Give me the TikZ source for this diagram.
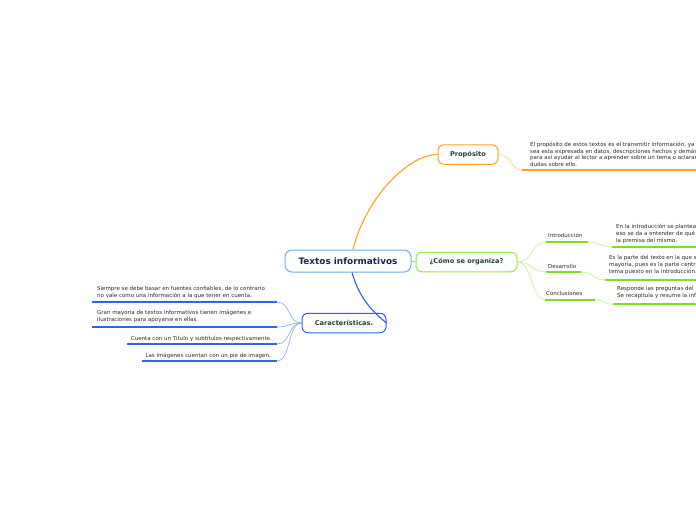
\documentclass[tikz,border=0pt]{standalone}
\usepackage{fontspec}
\setmainfont{DejaVu Sans}
\usepackage{xcolor}
\usepackage{tikz}
\usetikzlibrary{
  positioning,
  calc,
}

\definecolor{rootline}{HTML}{6CAEE4}
\definecolor{roottext}{HTML}{16284A}
\definecolor{topictext}{HTML}{1C4436}
\definecolor{leaftext}{HTML}{2A2A2A}
\definecolor{propline}{HTML}{FFA21F}
\definecolor{proplight}{HTML}{FFC978}
\definecolor{orgline}{HTML}{95EA45}
\definecolor{orgdark}{HTML}{80DC2A}
\definecolor{orglight}{HTML}{BDF28E}
\definecolor{carline}{HTML}{2560F0}
\definecolor{cardark}{HTML}{2F64F2}
\definecolor{carlight}{HTML}{85A8F5}

\begin{document}
\begin{tikzpicture}[
  x=1pt, y=-1pt,
  every node/.style={align=left, inner sep=0pt},
  rootbox/.style={draw=rootline, line width=1pt, rounded corners=7pt,
                  fill=white, minimum width=126pt, minimum height=22pt,
                  font=\fontsize{8.9}{10}\selectfont\bfseries, text=roottext,
                  align=center},
  topicbox/.style={draw=#1, line width=1pt, rounded corners=6pt,
                   fill=white, minimum height=19.5pt,
                   font=\fontsize{6.6}{7.5}\selectfont\bfseries, text=topictext,
                   align=center},
  leaf/.style={font=\fontsize{5.5}{6.7}\selectfont, text=leaftext},
  uline/.style={line width=1.6pt},
  twig/.style={line width=0.6pt},
]

\useasboundingbox (0,0) rectangle (696,520);
\clip (0,0) rectangle (696,520);

% main topics
\node[rootbox] (root) at (348,261) {Textos informativos};
\node[topicbox=propline, minimum width=60pt] (prop) at (468,154.5) {Propósito};
\node[topicbox=orgline, minimum width=101pt] (org) at (466.5,262) {¿Cómo se organiza?};
\node[topicbox=carline, minimum width=84pt] (car) at (344,323) {Características.};

\draw[propline, line width=1.1pt] ([xshift=5pt]root.north)
  .. controls +(12,-50) and +(-30,0) .. (prop.west);
\draw[orgline, line width=1pt] (root.east) -- (org.west);
\draw[carline, line width=1.1pt] ([xshift=4pt]root.south)
  .. controls +(8,28) and +(-12,-10) .. (car.east);

% Propósito
\coordinate (pu1) at (522,170);
\coordinate (pu2) at (700,170);
\draw[proplight, twig] (prop.east) .. controls +(14,0) and +(-12,0) .. (pu1);
\draw[propline, uline] (pu1) -- (pu2);
\node[leaf, anchor=south west] (ptext) at (530,166.7)
  {El propósito de estos textos es el transmitir información, ya\\
   sea esta expresada en datos, descripciones hechos y demás\\
   para así ayudar al lector a aprender sobre un tema o aclarar\\
   dudas sobre ello.};

% ¿Cómo se organiza?
\coordinate (i1) at (546,242);  \coordinate (i2) at (588,242);
\coordinate (d1) at (546,272);  \coordinate (d2) at (581,272);
\coordinate (c1) at (545,300);  \coordinate (c2) at (595,300);
\coordinate (it1) at (612,247); \coordinate (it2) at (700,247);
\coordinate (dt1) at (605,280); \coordinate (dt2) at (700,280);
\coordinate (ct1) at (613,304); \coordinate (ct2) at (700,304);

\foreach \a/\b/\c/\d in {i1/i2/it1/it2, d1/d2/dt1/dt2, c1/c2/ct1/ct2} {
  \draw[orglight, twig] (org.east) .. controls +(15,0) and +(-14,0) .. (\a);
  \draw[orgdark, uline] (\a) -- (\b);
  \draw[orglight, twig] (\b) .. controls +(12,0) and +(-12,0) .. (\c);
  \draw[orgdark, uline] (\c) -- (\d);
}

\node[leaf, anchor=south west] (intro) at (548,237.7) {Introducción};
\node[leaf, anchor=south west] (desa) at (548,268.7) {Desarrollo};
\node[leaf, anchor=south west] (concl) at (546,295.7) {Conclusiones};

\node[leaf, anchor=south west] (introtext) at (616,243.7)
  {En la introducción se plantea\\
   eso se da a entender de qué\\
   la premisa del mismo.};
\node[leaf, anchor=south west] (desatext) at (609,274.7)
  {Es la parte del texto en la que s\\
   mayoría, pues es la parte centr\\
   tema puesto en la introducción.};
\node[leaf, anchor=south west] (concltext) at (617,298.7)
  {Responde las preguntas del\\
   Se recapitula y resume la inf};

% Características
\coordinate (k1a) at (92,302);  \coordinate (k1b) at (277,302);
\coordinate (k2a) at (92,327);  \coordinate (k2b) at (277,327);
\coordinate (k3a) at (127,344); \coordinate (k3b) at (277,344);
\coordinate (k4a) at (142,361); \coordinate (k4b) at (277,361);

\foreach \a/\b in {k1a/k1b, k2a/k2b, k3a/k3b, k4a/k4b} {
  \draw[carlight, twig] (car.west) .. controls +(-14,0) and +(14,0) .. (\b);
  \draw[cardark, uline] (\a) -- (\b);
}

\node[leaf, anchor=south west] (fuentes) at (97,298.7)
  {Siempre se debe basar en fuentes confiables, de lo contrario\\
   no vale como una información a la que tener en cuenta.};
\node[leaf, anchor=south west] (imagenes) at (97,322.7)
  {Gran mayoría de textos informativos tienen imágenes e\\
   ilustraciones para apoyarse en ellas.};
\node[leaf, anchor=south east] (titulo) at (272,341.7)
  {Cuenta con un Título y subtítulos respectivamente.};
\node[leaf, anchor=south east] (pie) at (271,358.7)
  {Las imágenes cuentan con un pie de imagen.};

\end{tikzpicture}
\end{document}
